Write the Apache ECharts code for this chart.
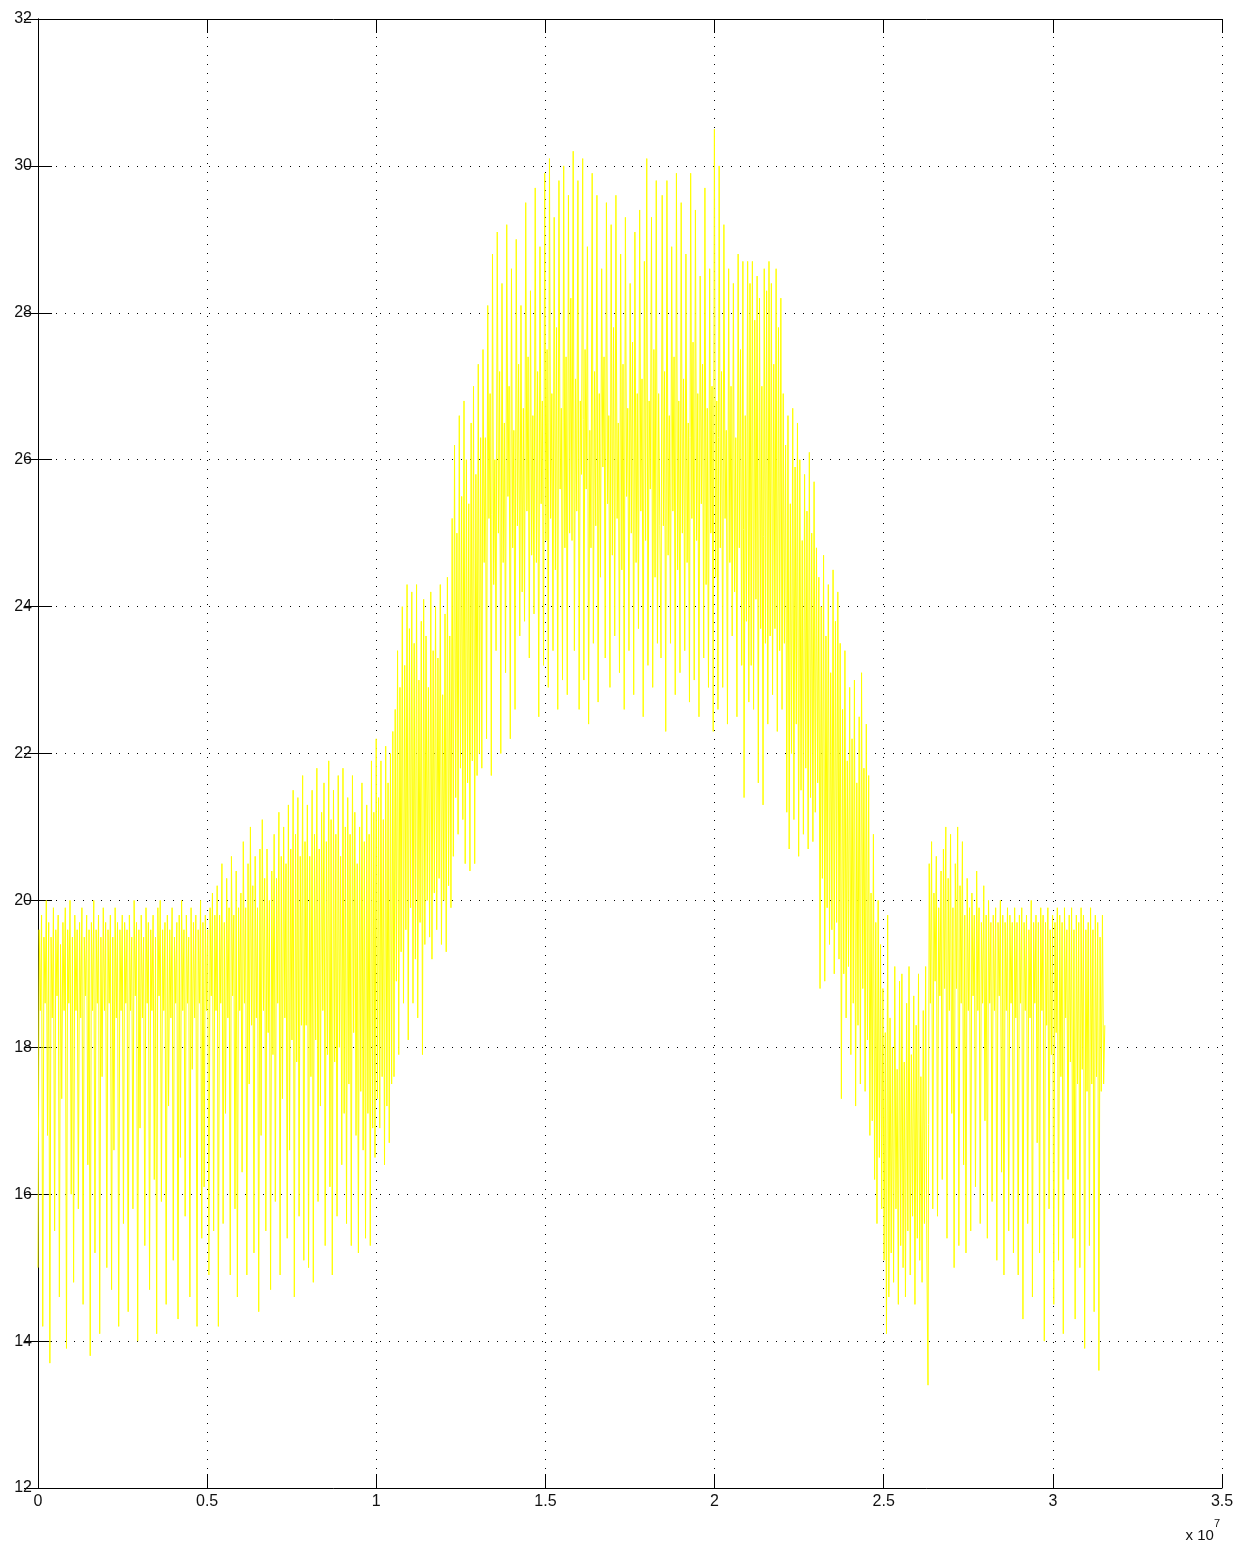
<!DOCTYPE html>
<html>
<head>
<meta charset="utf-8">
<script src="https://cdn.jsdelivr.net/npm/echarts@6/dist/echarts.min.js"></script>
<style>
  html, body { margin: 0; padding: 0; background: #fff; }
  #chart { width: 1237px; height: 1544px; }
</style>
</head>
<body>
<div id="chart"></div>
<script>
// one year of readings, seconds on x (0 .. 3.1536e7)
const yearSeconds = 31536000;

// values, month by month
const jan = [15.0, 19.6, 18.5, 19.8, 14.2, 19.5, 18.6, 20.0, 16.8, 19.7, 13.7, 19.5, 18.4, 19.9, 15.5, 19.6, 18.7, 19.8, 14.6, 19.4, 17.3, 19.7, 18.5, 19.9, 13.9, 19.6, 18.6, 20.0, 16.0, 19.5, 14.8, 19.8, 18.5, 19.6, 15.8, 19.7, 18.4, 19.9, 14.5, 19.5, 18.7, 19.8, 16.4, 19.6, 13.8, 19.7, 18.5, 20.0, 15.2, 19.6, 18.6, 19.8, 14.1, 19.5, 17.6, 19.9, 18.5, 19.7, 15.0, 19.6, 18.6, 19.8, 14.7, 19.5, 16.6, 19.9, 18.4, 19.7, 14.2, 19.6, 18.5, 19.8, 15.6, 19.7, 18.6];
const feb = [19.6, 14.4, 19.8, 18.5, 19.5, 15.8, 20.0, 18.7, 19.7, 14.0, 19.6, 16.9, 19.8, 18.4, 19.5, 15.3, 19.9, 18.6, 19.7, 14.7, 19.6, 18.5, 19.8, 16.2, 19.5, 14.1, 19.9, 18.7, 20.0, 15.9, 19.6, 18.5, 19.7, 14.5, 19.8, 17.2, 19.6, 18.4, 19.9, 15.1, 19.5, 18.6, 19.7, 14.3, 19.8, 16.5, 20.0, 18.5, 19.6, 15.7, 19.8, 18.6, 19.5, 14.6, 19.9, 17.7, 19.7, 18.4, 19.8, 14.2, 19.6, 18.6, 20.0, 15.4, 19.7, 16.1, 19.8, 18.5, 19.6, 14.9, 19.9, 18.7, 20.1, 15.5, 19.8];
const mar = [18.5, 20.2, 14.2, 19.8, 18.6, 20.5, 15.6, 19.7, 17.1, 20.3, 18.4, 19.9, 14.9, 20.6, 18.7, 19.8, 15.8, 20.4, 14.6, 19.9, 18.5, 20.1, 16.3, 20.8, 18.6, 19.9, 14.9, 20.5, 17.5, 21.0, 18.3, 20.2, 15.2, 20.6, 18.4, 19.9, 14.4, 20.7, 16.8, 21.1, 18.5, 20.3, 15.5, 20.7, 18.2, 20.0, 14.7, 20.4, 17.9, 20.9, 15.9, 20.3, 18.6, 21.2, 14.9, 20.6, 17.3, 21.0, 18.4, 20.5, 15.4, 21.3, 16.6, 20.7, 18.1, 21.5, 14.6, 20.9, 17.8, 21.4, 15.7, 20.6, 18.3, 21.7, 15.1];
const apr = [20.8, 18.3, 21.3, 15.0, 20.6, 17.6, 21.5, 14.8, 20.9, 18.1, 21.8, 15.9, 20.7, 17.2, 21.2, 18.5, 21.6, 15.3, 20.8, 17.9, 21.9, 16.1, 21.1, 14.9, 21.5, 17.8, 20.9, 15.7, 21.7, 18.0, 20.6, 16.4, 21.8, 17.1, 21.0, 15.6, 21.4, 17.5, 20.9, 15.3, 21.7, 18.2, 21.2, 16.8, 20.5, 15.2, 21.0, 17.4, 21.6, 16.6, 20.8, 15.4, 21.3, 17.1, 20.9, 15.3, 21.9, 16.9, 21.2, 16.5, 22.2, 17.3, 21.4, 16.9, 21.9, 17.6, 21.1, 16.4, 22.1, 17.2, 21.6, 16.7, 22.0, 17.5, 22.3];
const may = [17.6, 22.6, 18.9, 23.4, 17.9, 22.9, 19.3, 24.0, 18.6, 23.2, 19.6, 24.3, 18.1, 23.7, 19.9, 24.2, 18.6, 23.5, 19.2, 24.3, 18.4, 23.0, 19.7, 23.8, 17.9, 24.1, 19.4, 23.6, 20.0, 22.9, 19.5, 24.2, 19.2, 23.4, 20.1, 24.0, 19.6, 23.3, 20.3, 24.3, 19.4, 22.8, 20.0, 23.9, 19.3, 24.4, 20.2, 23.6, 19.9, 25.2, 20.6, 26.2, 21.4, 25.0, 20.9, 26.6, 21.8, 25.5, 21.1, 26.8, 20.5, 26.0, 21.6, 25.4, 20.4, 26.5, 21.9, 27.0, 20.5, 25.8, 21.7, 27.3, 22.0, 26.3, 21.8];
const jun = [27.5, 24.6, 26.3, 22.2, 28.1, 25.2, 26.9, 21.7, 28.8, 24.3, 26.0, 23.4, 29.1, 25.0, 27.2, 22.0, 28.4, 24.6, 26.5, 23.1, 29.2, 25.5, 27.0, 22.2, 28.6, 24.8, 26.4, 22.6, 29.0, 25.1, 27.3, 23.6, 28.1, 24.2, 26.7, 23.8, 29.5, 25.3, 27.4, 23.3, 28.3, 24.7, 26.6, 23.9, 29.7, 24.6, 27.2, 22.5, 28.9, 25.4, 26.8, 23.2, 29.9, 24.9, 27.5, 22.9, 30.1, 25.2, 26.9, 23.4, 29.3, 24.5, 27.8, 22.6, 29.8, 25.6, 26.7, 23.0, 30.0, 24.8, 27.4, 22.8, 29.6, 25.0, 28.2];
const jul = [24.9, 30.2, 23.4, 27.1, 25.3, 29.8, 22.6, 26.8, 25.8, 30.1, 23.0, 27.5, 25.6, 28.9, 22.4, 26.4, 24.8, 29.9, 23.5, 27.2, 25.1, 29.6, 22.7, 26.9, 24.4, 28.6, 25.9, 27.4, 23.3, 29.5, 25.4, 26.6, 22.9, 29.2, 24.7, 27.8, 23.6, 29.6, 25.2, 26.5, 23.1, 28.8, 24.5, 27.3, 22.6, 29.3, 25.5, 26.7, 23.4, 28.4, 25.0, 27.6, 22.8, 29.1, 24.6, 26.9, 23.7, 29.4, 25.3, 27.1, 22.5, 28.7, 24.9, 30.1, 23.2, 26.8, 25.6, 29.3, 22.9, 27.5, 24.4, 29.8, 23.5, 26.9, 25.1];
const aug = [23.3, 29.6, 25.1, 27.2, 22.3, 29.8, 24.7, 26.6, 23.5, 28.9, 25.3, 27.4, 22.8, 29.9, 24.5, 26.8, 23.1, 29.5, 25.0, 27.1, 23.4, 28.8, 24.6, 26.5, 22.7, 29.9, 25.2, 27.6, 23.0, 29.4, 24.9, 26.9, 22.5, 28.5, 25.4, 27.3, 23.3, 29.7, 24.3, 26.7, 22.9, 28.6, 25.0, 27.0, 22.3, 30.5, 24.4, 26.8, 22.6, 30.0, 24.8, 27.2, 22.9, 29.2, 25.2, 26.4, 22.4, 28.6, 24.6, 27.0, 23.6, 28.4, 24.2, 26.3, 22.5, 28.8, 24.8, 27.5, 23.2, 28.7, 21.4, 26.6, 23.8, 28.7, 22.7];
const sep = [28.4, 23.2, 28.7, 22.6, 27.9, 24.1, 28.5, 21.6, 28.2, 23.7, 27.0, 21.3, 28.6, 23.5, 28.3, 22.4, 28.7, 23.6, 28.4, 22.8, 27.3, 23.7, 28.6, 22.3, 27.8, 23.4, 28.2, 22.6, 26.9, 23.5, 26.2, 21.2, 26.6, 20.7, 25.4, 22.0, 26.7, 21.1, 25.9, 22.4, 26.5, 20.6, 26.0, 21.5, 24.9, 20.9, 25.8, 21.8, 25.3, 20.7, 26.1, 21.4, 25.0, 20.8, 25.7, 21.2, 24.8, 21.6, 24.4, 18.8, 24.0, 20.3, 24.7, 18.9, 23.6, 19.9, 24.3, 19.4, 23.1, 19.6, 24.5, 19.0, 23.8, 19.7, 24.2];
const oct = [19.2, 23.5, 17.3, 22.6, 19.0, 23.4, 18.4, 21.9, 19.1, 22.9, 17.9, 22.2, 18.6, 23.0, 17.2, 21.6, 18.3, 22.5, 17.5, 23.1, 18.8, 21.8, 17.4, 22.4, 18.1, 21.7, 16.8, 20.1, 17.0, 20.9, 16.2, 19.7, 15.6, 20.0, 16.5, 19.4, 15.8, 18.8, 15.1, 18.2, 14.1, 19.8, 14.6, 18.4, 15.2, 18.0, 14.8, 19.1, 15.8, 17.7, 14.5, 18.9, 15.3, 19.0, 15.0, 17.8, 14.6, 18.6, 15.5, 19.1, 14.9, 17.9, 15.7, 18.7, 14.5, 18.3, 15.4, 19.0, 15.1, 17.6, 14.8, 18.5, 15.6, 19.1, 15.2];
const nov = [13.4, 20.5, 18.6, 20.8, 15.8, 20.1, 18.9, 20.6, 15.7, 19.9, 18.7, 20.4, 16.2, 20.7, 18.8, 21.0, 15.4, 20.3, 18.5, 20.9, 17.1, 19.9, 15.0, 20.5, 18.8, 21.0, 15.3, 20.2, 18.6, 20.8, 16.4, 19.8, 15.2, 20.3, 18.5, 19.9, 15.5, 20.1, 18.7, 19.8, 16.1, 20.4, 18.5, 19.9, 15.6, 19.7, 18.6, 20.2, 17.0, 19.8, 15.4, 20.0, 18.6, 19.7, 15.9, 19.8, 18.5, 19.9, 15.1, 19.7, 18.7, 20.0, 16.3, 19.8, 14.9, 19.7, 18.5, 19.9, 15.5, 19.8, 18.6, 19.7, 15.2, 19.9, 18.4];
const dec = [19.7, 14.9, 19.8, 18.6, 19.9, 14.3, 19.7, 18.5, 19.8, 15.6, 19.6, 18.4, 20.0, 14.6, 19.7, 18.6, 19.8, 16.7, 19.7, 15.2, 19.9, 18.5, 19.8, 14.0, 19.7, 18.3, 19.9, 15.8, 19.6, 17.9, 19.8, 14.5, 19.7, 18.2, 19.9, 15.1, 19.8, 17.6, 19.7, 14.1, 19.9, 18.4, 19.6, 16.2, 19.8, 17.8, 19.9, 15.4, 19.6, 14.3, 19.8, 17.5, 19.7, 15.0, 19.9, 17.7, 19.8, 13.9, 19.6, 17.4, 19.7, 15.3, 19.9, 17.5, 19.6, 14.4, 19.8, 17.6, 19.7, 13.6, 19.5, 17.4, 19.8, 17.5, 18.3];

// axis ticks
const xTicks = [0, 0.5e7, 1e7, 1.5e7, 2e7, 2.5e7, 3e7, 3.5e7];
const yTicks = [12, 14, 16, 18, 20, 22, 24, 26, 28, 30, 32];

const temps = [].concat(jan, feb, mar, apr, may, jun, jul, aug, sep, oct, nov, dec);
const step = yearSeconds / (temps.length - 1);
const seriesData = temps.map((v, i) => [i * step, v]);

const font = 'Liberation Sans, Arial, sans-serif';
const gridLine = { show: true, lineStyle: { color: '#000', width: 1, type: [1, 8] } };
const boxLine = { show: true, lineStyle: { color: '#000', width: 1 } };
const tick = { show: true, inside: true, length: 14, lineStyle: { color: '#000' } };

const myChart = echarts.init(document.getElementById('chart'));
myChart.setOption({
  animation: false,
  backgroundColor: '#fff',
  grid: { left: 38, right: 15, top: 19, bottom: 56 },
  xAxis: [{
    type: 'value',
    min: xTicks[0],
    max: xTicks[xTicks.length - 1],
    interval: xTicks[1] - xTicks[0],
    position: 'bottom',
    axisLine: boxLine,
    axisTick: tick,
    splitLine: gridLine,
    axisLabel: {
      color: '#111', fontSize: 16, fontFamily: font, margin: 6,
      formatter: v => String(+(v / 1e7).toFixed(1))
    }
  }, {
    type: 'value',
    min: xTicks[0],
    max: xTicks[xTicks.length - 1],
    interval: xTicks[1] - xTicks[0],
    position: 'top',
    axisLine: boxLine,
    axisTick: tick,
    splitLine: { show: false },
    axisLabel: { show: false }
  }],
  yAxis: [{
    type: 'value',
    min: yTicks[0],
    max: yTicks[yTicks.length - 1],
    interval: yTicks[1] - yTicks[0],
    position: 'left',
    axisLine: boxLine,
    axisTick: tick,
    splitLine: gridLine,
    axisLabel: { color: '#111', fontSize: 16, fontFamily: font, margin: 6 }
  }, {
    type: 'value',
    min: yTicks[0],
    max: yTicks[yTicks.length - 1],
    interval: yTicks[1] - yTicks[0],
    position: 'right',
    axisLine: boxLine,
    axisTick: tick,
    splitLine: { show: false },
    axisLabel: { show: false }
  }],
  graphic: [{
    type: 'text',
    right: 17,
    top: 1518,
    style: {
      text: '{a|x 10}{b|7}',
      rich: {
        a: { fontSize: 15, fontFamily: font, fill: '#111', padding: [10, 0, 0, 0] },
        b: { fontSize: 11, fontFamily: font, fill: '#111', verticalAlign: 'top' }
      }
    }
  }],
  series: [{
    type: 'line',
    xAxisIndex: 0,
    yAxisIndex: 0,
    data: seriesData,
    showSymbol: false,
    symbol: 'none',
    sampling: null,
    clip: true,
    lineStyle: { color: '#ffff00', width: 1 }
  }]
});
</script>
</body>
</html>
